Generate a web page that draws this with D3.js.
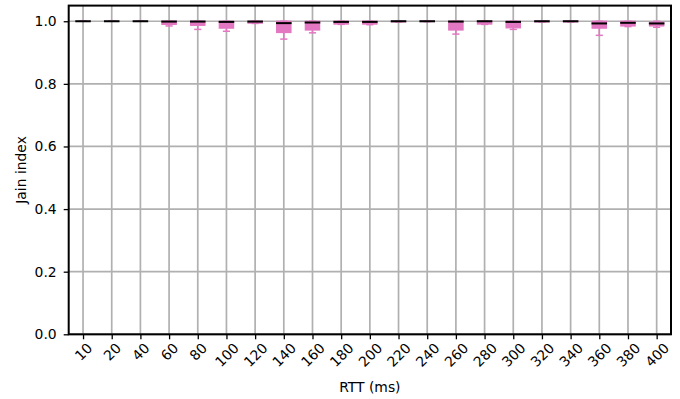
<!DOCTYPE html>
<html>
<head>
<meta charset="utf-8">
<script src="https://cdn.jsdelivr.net/npm/d3@7"></script>
<style>
  body { margin: 0; background: #fff; }
  text { font-family: "DejaVu Sans", sans-serif; fill: #000; }
</style>
</head>
<body>
<div id="chart"></div>
<script>
// RTT categories (ms)
var rttLabels = ["10","20","40","60","80","100","120","140","160","180","200",
                 "220","240","260","280","300","320","340","360","380","400"];

// box statistics per RTT
var whiskerHigh = [1.0,1.0,1.0,1.0,1.0,1.0,1.0,1.0,1.0,1.0,1.0,
                   1.0,1.0,1.0,1.0,1.0,1.0,1.0,1.0,1.0,1.0];
var q3Values    = [1.0,1.0,1.0,1.0,1.0,1.0,1.0,1.0,1.0,1.0,1.0,
                   1.0,1.0,1.0,1.0,1.0,1.0,1.0,1.0,1.0,0.997];
var medianValues = [1.0,1.0,1.0,0.999,0.999,0.998,0.999,0.994,0.996,0.998,0.998,
                    1.0,1.0,0.999,1.0,0.998,1.0,1.0,0.993,0.995,0.993];
var q1Values    = [1.0,1.0,1.0,0.990,0.987,0.978,0.994,0.964,0.972,0.991,0.991,
                   0.998,0.999,0.972,0.991,0.979,0.998,0.998,0.978,0.985,0.985];
var whiskerLow  = [1.0,1.0,1.0,0.985,0.974,0.968,0.993,0.943,0.963,0.990,0.989,
                   0.998,0.999,0.959,0.990,0.974,0.998,0.998,0.955,0.983,0.981];

var yTicks = [0.0, 0.2, 0.4, 0.6, 0.8, 1.0];

var data = rttLabels.map(function(d, i) {
  return { label: d, pos: i + 1, hi: whiskerHigh[i], q3: q3Values[i],
           med: medianValues[i], q1: q1Values[i], lo: whiskerLow[i] };
});

var svgWidth = 680, svgHeight = 399;
var margin = { top: 5.6, right: 9, bottom: 64.7, left: 68.7 };
var chartWidth = svgWidth - margin.left - margin.right;
var chartHeight = svgHeight - margin.top - margin.bottom;

var svg = d3.select("#chart").append("svg")
    .attr("width", svgWidth)
    .attr("height", svgHeight);

var chartGroup = svg.append("g")
    .attr("transform", `translate(${margin.left}, ${margin.top})`);

// scales: boxplot positions 1..n, limits 0.5..n+0.5
var xScale = d3.scaleLinear()
    .domain([0.5, rttLabels.length + 0.5])
    .range([0, chartWidth]);

var yScale = d3.scaleLinear()
    .domain([0, 1.05])
    .range([chartHeight, 0]);

var unit = xScale(2) - xScale(1);
var boxW = unit * 0.5;
var capW = boxW * 0.5;
var pink = "#e377c2";

// grid
chartGroup.append("g").selectAll("line.vgrid")
    .data(data).enter().append("line")
    .attr("x1", d => xScale(d.pos)).attr("x2", d => xScale(d.pos))
    .attr("y1", 0).attr("y2", chartHeight)
    .attr("stroke", "#b0b0b0").attr("stroke-width", 1.7);

chartGroup.append("g").selectAll("line.hgrid")
    .data(yTicks).enter().append("line")
    .attr("x1", 0).attr("x2", chartWidth)
    .attr("y1", d => yScale(d)).attr("y2", d => yScale(d))
    .attr("stroke", "#b0b0b0").attr("stroke-width", 1.7);

// boxes
var boxes = chartGroup.append("g").selectAll("g.box")
    .data(data).enter().append("g");

// whiskers
boxes.append("line")
    .attr("x1", d => xScale(d.pos)).attr("x2", d => xScale(d.pos))
    .attr("y1", d => yScale(d.q1)).attr("y2", d => yScale(d.lo))
    .attr("stroke", pink).attr("stroke-width", 1.5);
boxes.append("line")
    .attr("x1", d => xScale(d.pos)).attr("x2", d => xScale(d.pos))
    .attr("y1", d => yScale(d.q3)).attr("y2", d => yScale(d.hi))
    .attr("stroke", pink).attr("stroke-width", 1.5);

// caps
boxes.append("line")
    .attr("x1", d => xScale(d.pos) - capW / 2).attr("x2", d => xScale(d.pos) + capW / 2)
    .attr("y1", d => yScale(d.lo)).attr("y2", d => yScale(d.lo))
    .attr("stroke", pink).attr("stroke-width", 1.5);
boxes.append("line")
    .attr("x1", d => xScale(d.pos) - capW / 2).attr("x2", d => xScale(d.pos) + capW / 2)
    .attr("y1", d => yScale(d.hi)).attr("y2", d => yScale(d.hi))
    .attr("stroke", pink).attr("stroke-width", 1.5);

// box body
boxes.append("rect")
    .attr("x", d => xScale(d.pos) - boxW / 2)
    .attr("width", boxW)
    .attr("y", d => yScale(d.q3))
    .attr("height", d => yScale(d.q1) - yScale(d.q3))
    .attr("fill", pink)
    .attr("stroke", pink)
    .attr("stroke-width", 1.2);

// median
boxes.append("line")
    .attr("x1", d => xScale(d.pos) - boxW / 2 - 0.6).attr("x2", d => xScale(d.pos) + boxW / 2 + 0.6)
    .attr("y1", d => yScale(d.med)).attr("y2", d => yScale(d.med))
    .attr("stroke", "#000").attr("stroke-width", 2);

// frame
chartGroup.append("rect")
    .attr("x", 0).attr("y", 0)
    .attr("width", chartWidth).attr("height", chartHeight)
    .attr("fill", "none").attr("stroke", "#000").attr("stroke-width", 2);

// y axis
var leftAxis = d3.axisLeft(yScale)
    .tickValues(yTicks)
    .tickFormat(d3.format(".1f"))
    .tickSize(5)
    .tickPadding(7);

var yAxisG = chartGroup.append("g").call(leftAxis);
yAxisG.select(".domain").remove();
yAxisG.selectAll(".tick line").attr("stroke", "#000").attr("stroke-width", 1.3);
yAxisG.selectAll(".tick text")
    .attr("font-size", "13.9px")
    .attr("font-family", "DejaVu Sans");

// x axis
var bottomAxis = d3.axisBottom(xScale)
    .tickValues(data.map(d => d.pos))
    .tickFormat((d, i) => rttLabels[i])
    .tickSize(5);

var xAxisG = chartGroup.append("g")
    .attr("transform", `translate(0, ${chartHeight})`)
    .call(bottomAxis);
xAxisG.select(".domain").remove();
xAxisG.selectAll(".tick line").attr("stroke", "#000").attr("stroke-width", 1.3);

// rotated labels, bbox centred under the tick
xAxisG.selectAll(".tick text")
    .attr("font-size", "13.9px")
    .attr("font-family", "DejaVu Sans")
    .attr("text-anchor", "middle")
    .attr("dy", "0.35em")
    .each(function() {
      var w = this.getComputedTextLength();
      var cy = 8.5 + (w + 8) / (2 * Math.SQRT2);
      d3.select(this)
        .attr("y", cy)
        .attr("x", 0)
        .attr("transform", `rotate(-45, 0, ${cy})`);
    });

// axis labels
chartGroup.append("text")
    .attr("x", chartWidth / 2)
    .attr("y", chartHeight + 57.5)
    .attr("text-anchor", "middle")
    .attr("font-size", "13.9px")
    .text("RTT (ms)");

chartGroup.append("text")
    .attr("transform", `translate(${26 - margin.left}, ${chartHeight / 2}) rotate(-90)`)
    .attr("text-anchor", "middle")
    .attr("font-size", "13.9px")
    .text("Jain index");
</script>
</body>
</html>
